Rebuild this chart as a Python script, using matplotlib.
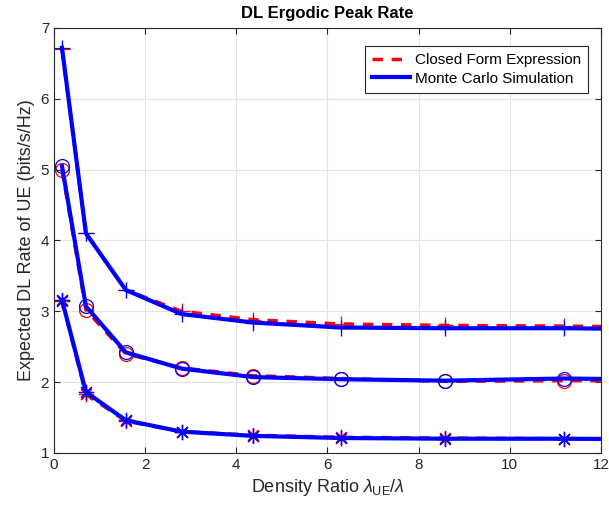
import numpy as np
import matplotlib.pyplot as plt

plt.rcParams['font.family'] = ['Liberation Sans', 'DejaVu Sans']
plt.rcParams['mathtext.fontset'] = 'custom'
plt.rcParams['mathtext.rm'] = 'Liberation Sans'
plt.rcParams['mathtext.it'] = 'Liberation Sans:italic'

# density ratio samples
x = [0.175, 0.7, 1.575, 2.8, 4.375, 6.3, 8.575, 11.2, 14.175]

# closed form expression
top_cf = [6.70, 4.10, 3.30, 3.00, 2.88, 2.82, 2.80, 2.79, 2.77]
mid_cf = [5.00, 3.02, 2.40, 2.20, 2.09, 2.05, 2.01, 2.02, 2.02]
bot_cf = [3.15, 1.83, 1.45, 1.30, 1.25, 1.22, 1.21, 1.20, 1.20]

# monte carlo simulation
top_mc = [6.72, 4.10, 3.30, 2.96, 2.84, 2.77, 2.76, 2.76, 2.74]
mid_mc = [5.05, 3.07, 2.42, 2.19, 2.07, 2.04, 2.02, 2.05, 2.03]
bot_mc = [3.16, 1.86, 1.46, 1.30, 1.24, 1.21, 1.20, 1.20, 1.19]

ast = (8, 2, 0)  # matlab style asterisk

fig = plt.figure(figsize=(6.09, 5.17), dpi=100)
ax = fig.add_axes([0.0887, 0.124, 0.898, 0.822])

# closed form - red dashed
ax.plot(x, top_cf, 'r--', lw=2.5, dashes=(3, 2.5), label='Closed Form Expression')
ax.plot(x, mid_cf, 'r--', lw=2.5, dashes=(3, 2.5))
ax.plot(x, bot_cf, 'r--', lw=2.5, dashes=(3, 2.5))
ax.plot(x, top_cf, 'r+', ms=12, mew=0.9)
ax.plot(x, mid_cf, 'ro', ms=10, mfc='none', mew=0.9)
ax.plot(x, bot_cf, ls='none', marker=ast, color='r', ms=11, mew=0.9)

# monte carlo - blue solid
ax.plot(x, top_mc, 'b-', lw=3, label='Monte Carlo Simulation')
ax.plot(x, mid_mc, 'b-', lw=3)
ax.plot(x, bot_mc, 'b-', lw=3)
ax.plot(x, top_mc, 'b+', ms=12, mew=0.9)
ax.plot(x, mid_mc, 'bo', ms=10, mfc='none', mew=0.9)
ax.plot(x, bot_mc, ls='none', marker=ast, color='b', ms=11, mew=0.9)

ax.set_xlim(0, 12)
ax.set_ylim(1, 7)
ax.set_xticks(np.arange(0, 13, 2))
ax.set_yticks(np.arange(1, 8, 1))
ax.grid(True, color='#e3e3e3', lw=0.8)
ax.set_axisbelow(True)
ax.tick_params(direction='in', top=True, right=True, labelsize=11, length=4,
               colors='#262626')
for s in ax.spines.values():
    s.set_color('#262626')
    s.set_linewidth(0.8)

ax.set_title('DL Ergodic Peak Rate', fontsize=12, fontweight='bold', pad=7)
ax.set_xlabel(r'Density Ratio $\lambda_{\mathrm{UE}}/\lambda$', fontsize=13, color='#262626')
ax.set_ylabel('Expected DL Rate of UE (bits/s/Hz)', fontsize=13, color='#262626')

leg = ax.legend(loc='upper right', bbox_to_anchor=(0.99, 0.975), fancybox=False,
                edgecolor='#262626', framealpha=1, fontsize=11,
                handlelength=2.5, borderpad=0.45, labelspacing=0.3, handletextpad=0.3)
leg.get_frame().set_linewidth(0.8)

fig.savefig('out.png', dpi=100)
